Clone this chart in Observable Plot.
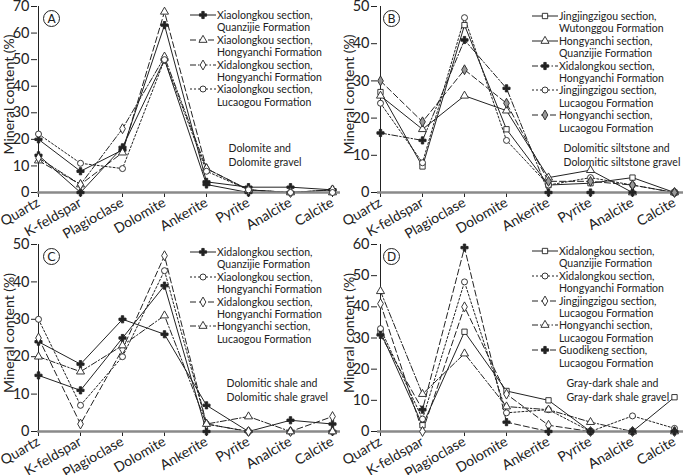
<!DOCTYPE html>
<html><head><meta charset="utf-8">
<script src="https://cdn.jsdelivr.net/npm/d3@7"></script>
<script src="https://cdn.jsdelivr.net/npm/@observablehq/plot@0.6"></script>
<style>
body{margin:0;background:#fff;font-family:Lato,"Open Sans",sans-serif;}
#wrap{position:relative;width:685px;height:475px;overflow:hidden;background:#fff}
.panel{position:absolute}
.legend{position:absolute;font-family:Lato,sans-serif;font-size:10.5px;line-height:12.4px;color:#222}
.item{display:flex;align-items:flex-start}
.item svg{flex:none;margin-top:0px;overflow:visible}
.item span{white-space:pre}
</style></head><body><div id="wrap"></div>
<script>
const minerals = ["Quartz","K-feldspar","Plagioclase","Dolomite","Ankerite","Pyrite","Analcite","Calcite"];

// Panel A – Dolomite and Dolomite gravel
const aXiaolongkouQuanzijie  = [20, 8, 16, 63, 4, 2, 2, 1];
const aXiaolongkouQuanzijie2 = [14, 0, 17, 50, 3, 0, 0, 1];
const aXiaolongkouHongyanchi = [12, 3, 15, 68, 9, 1, 0, 0];
const aXidalongkouHongyanchi = [13, 3, 24, 51, 9, 1, 0, 1];
const aXiaolongkouLucaogou   = [22, 11, 9, 50, 8, 1, 0, 0];

// Panel B – Dolomitic siltstone and Dolomitic siltstone gravel
const bJingjingzigouWutonggou = [27, 7, 45, 17, 2, 2.5, 4, 0];
const bHongyanchiQuanzijie    = [26, 17, 26, 22, 4, 6, 0, 0];
const bXidalongkouHongyanchi  = [16, 14, 41, 28, 0, 0, 0, 0];
const bJingjingzigouLucaogou  = [24, 8, 47, 14, 2, 4, 2, 0];
const bHongyanchiLucaogou     = [30, 19, 33, 24, 3, 3, 2, 0];

// Panel C – Dolomitic shale and Dolomitic shale gravel
const cXidalongkouQuanzijie  = [24, 18, 30, 26, 7, 0, 3, 2];
const cXidalongkouQuanzijie2 = [15, 11, 25, 39, 0, 0, 0, 0];
const cXiaolongkouHongyanchi = [30, 7, 20, 43, 2, 0, 0, 0];
const cXidalongkouHongyanchi = [25, 2, 22, 47, 2, 0, 0, 4];
const cHongyanchiLucaogou    = [20, 16, 23, 31, 2, 4, 0, 0];

// Panel D – Gray-dark shale and Gray-dark shale gravel
const dXidalongkouQuanzijie  = [32, 2, 32, 13, 10, 0, 0, 11];
const dXidalongkouHongyanchi = [33, 4, 48, 6, 7, 0, 5, 1];
const dJingjingzigouLucaogou = [41, 0, 40, 12, 2, 0, 0, 0];
const dHongyanchiLucaogou    = [45, 12, 25, 8, 7, 3, 0, 0];
const dGuodikengLucaogou     = [31, 7, 59, 3, 0, 0, 0, 0];

const yTicksA = [0,10,20,30,40,50,60,70];
const yTicksB = [0,10,20,30,40,50];
const yTicksC = [0,10,20,30,40,50];
const yTicksD = [0,10,20,30,40,50,60];

const notes = {
  A: "Dolomite and\nDolomite gravel",
  B: "Dolomitic siltstone and\nDolomitic siltstone gravel",
  C: "Dolomitic shale and\nDolomitic shale gravel",
  D: "Gray-dark shale and\nGray-dark shale gravel"
};

const SOLID = null, DASH = "6,3", DASHDOT = "6,2,1.5,2", DOT = "2,2";
const INK = "#222";

const panels = [
  {letter:"A", left:0, top:0, mt:6, mb:48, mr:12, ticks:yTicksA, note:notes.A, noteX:228, series:[
    {label:"Xiaolongkou section,\nQuanzijie Formation", values:aXiaolongkouQuanzijie, dash:SOLID, symbol:"cross", filled:true},
    {label:null, values:aXiaolongkouQuanzijie2, dash:SOLID, symbol:"cross", filled:true},
    {label:"Xiaolongkou section,\nHongyanchi Formation", values:aXiaolongkouHongyanchi, dash:DASH, symbol:"triangle"},
    {label:"Xidalongkou section,\nHongyanchi Formation", values:aXidalongkouHongyanchi, dash:DASHDOT, symbol:"diamond"},
    {label:"Xiaolongkou section,\nLucaogou Formation", values:aXiaolongkouLucaogou, dash:DOT, symbol:"circle"}
  ], legend:{x:190, y:9}},
  {letter:"B", left:340, top:0, mt:6, mb:48, mr:9, ticks:yTicksB, note:notes.B, noteX:223, series:[
    {label:"Jingjingzigou section,\nWutonggou Formation", values:bJingjingzigouWutonggou, dash:SOLID, symbol:"square"},
    {label:"Hongyanchi section,\nQuanzijie Formation", values:bHongyanchiQuanzijie, dash:SOLID, symbol:"triangle"},
    {label:"Xidalongkou section,\nHongyanchi Formation", values:bXidalongkouHongyanchi, dash:DASHDOT, symbol:"cross", filled:true},
    {label:"Jingjingzigou section,\nLucaogou Formation", values:bJingjingzigouLucaogou, dash:DOT, symbol:"circle"},
    {label:"Hongyanchi section,\nLucaogou Formation", values:bHongyanchiLucaogou, dash:DASH, symbol:"diamond", gray:true}
  ], legend:{x:192, y:10}},
  {letter:"C", left:0, top:235, mt:9, mb:44, mr:12, ticks:yTicksC, note:notes.C, noteX:226, series:[
    {label:"Xidalongkou section,\nQuanzijie Formation", values:cXidalongkouQuanzijie, dash:SOLID, symbol:"cross", filled:true},
    {label:null, values:cXidalongkouQuanzijie2, dash:SOLID, symbol:"cross", filled:true},
    {label:"Xiaolongkou section,\nHongyanchi Formation", values:cXiaolongkouHongyanchi, dash:DOT, symbol:"circle"},
    {label:"Xidalongkou section,\nHongyanchi Formation", values:cXidalongkouHongyanchi, dash:DASH, symbol:"diamond"},
    {label:"Hongyanchi section,\nLucaogou Formation", values:cHongyanchiLucaogou, dash:DASHDOT, symbol:"triangle"}
  ], legend:{x:190, y:11}},
  {letter:"D", left:340, top:235, mt:9, mb:44, mr:9, ticks:yTicksD, note:notes.D, noteX:226, series:[
    {label:"Xidalongkou section,\nQuanzijie Formation", values:dXidalongkouQuanzijie, dash:SOLID, symbol:"square"},
    {label:"Xidalongkou section,\nHongyanchi Formation", values:dXidalongkouHongyanchi, dash:DOT, symbol:"circle"},
    {label:"Jingjingzigou section,\nLucaogou Formation", values:dJingjingzigouLucaogou, dash:DASH, symbol:"diamond"},
    {label:"Hongyanchi section,\nLucaogou Formation", values:dHongyanchiLucaogou, dash:DASHDOT, symbol:"triangle"},
    {label:"Guodikeng section,\nLucaogou Formation", values:dGuodikengLucaogou, dash:DASH, symbol:"cross", filled:true}
  ], legend:{x:192, y:10}}
];

const symbolMap = {circle:d3.symbolCircle, triangle:d3.symbolTriangle, diamond:d3.symbolDiamond, square:d3.symbolSquare, cross:d3.symbolCross};
const R = 3;
function fillOf(s){ return s.filled ? INK : (s.gray ? "#999" : "white"); }

function swatch(s){
  const w = 26, h = 12;
  const svg = d3.create("svg").attr("width", w).attr("height", h);
  svg.append("line").attr("x1",0).attr("x2",w).attr("y1",h/2).attr("y2",h/2)
    .attr("stroke",INK).attr("stroke-width",1).attr("stroke-dasharray", s.dash);
  svg.append("path").attr("transform",`translate(${w/2},${h/2})`)
    .attr("d", d3.symbol(symbolMap[s.symbol], Math.PI*R*R)())
    .attr("fill", fillOf(s)).attr("stroke", INK).attr("stroke-width",0.9);
  return svg.node();
}

const wrap = document.getElementById("wrap");
const W = 345, H = 240, ML = 37;

for (const p of panels) {
  const yMax = p.ticks[p.ticks.length-1];
  const marks = [
    Plot.ruleX([minerals[0]], {stroke: INK, strokeWidth: 1}),
    Plot.axisY({ticks: p.ticks, tickSize: 6, tickPadding: 2, fontSize: 14.5, stroke: INK, fill: INK}),
    Plot.axisX({tickSize: 5, tickPadding: 4, tickRotate: -30, fontSize: 14, stroke: INK, fill: INK}),
    Plot.text(["Mineral content (%)"], {frameAnchor: "left", dx: -28, dy: -5, rotate: -90, textAnchor: "middle", lineAnchor: "middle", fontSize: 14, fill: INK}),
  ];
  p.series.forEach((s) => {
    const rows = minerals.map((m, j) => ({mineral: m, value: s.values[j]}));
    marks.push(Plot.line(rows, {x: "mineral", y: "value", stroke: INK, strokeWidth: 1, strokeDasharray: s.dash}));
  });
  marks.push(Plot.ruleY([0], {stroke: "#8a8a8a", strokeWidth: 2.5, insetRight: -7}));
  p.series.forEach((s) => {
    const rows = minerals.map((m, j) => ({mineral: m, value: s.values[j]}));
    marks.push(Plot.dot(rows, {x: "mineral", y: "value", symbol: s.symbol, r: R, fill: fillOf(s), stroke: INK, strokeWidth: 0.9}));
  });
  // circled panel letter
  marks.push(Plot.dot([p.letter], {frameAnchor: "top-left", dx: 14, dy: 12, r: 8, fill: "white", stroke: INK, strokeWidth: 1}));
  marks.push(Plot.text([p.letter], {frameAnchor: "top-left", dx: 14, dy: 12.5, textAnchor: "middle", lineAnchor: "middle", fontSize: 12, fill: INK, fontFamily: "DejaVu Sans"}));
  // annotation
  marks.push(Plot.text([p.note], {frameAnchor: "top-left", dx: p.noteX - ML, dy: 141 - p.mt, textAnchor: "start", lineAnchor: "top", lineHeight: 1.35, fontSize: 10.5, fill: INK}));

  const chart = Plot.plot({
    width: W, height: H,
    marginLeft: ML, marginRight: p.mr, marginTop: p.mt, marginBottom: p.mb,
    style: {fontFamily: "Lato, sans-serif", color: INK, background: "transparent", overflow: "visible"},
    x: {type: "point", domain: minerals, padding: 0, label: null},
    y: {domain: [0, yMax], label: null},
    marks
  });
  const div = document.createElement("div");
  div.className = "panel";
  div.style.left = p.left + "px";
  div.style.top = p.top + "px";
  div.appendChild(chart);
  wrap.appendChild(div);

  const lg = document.createElement("div");
  lg.className = "legend";
  lg.style.left = (p.left + p.legend.x) + "px";
  lg.style.top = (p.top + p.legend.y) + "px";
  for (const s of p.series) {
    if (!s.label) continue;
    const it = document.createElement("div");
    it.className = "item";
    it.appendChild(swatch(s));
    const sp = document.createElement("span");
    sp.textContent = s.label;
    sp.style.marginLeft = "1px";
    it.appendChild(sp);
    lg.appendChild(it);
  }
  wrap.appendChild(lg);
}
</script></body></html>
